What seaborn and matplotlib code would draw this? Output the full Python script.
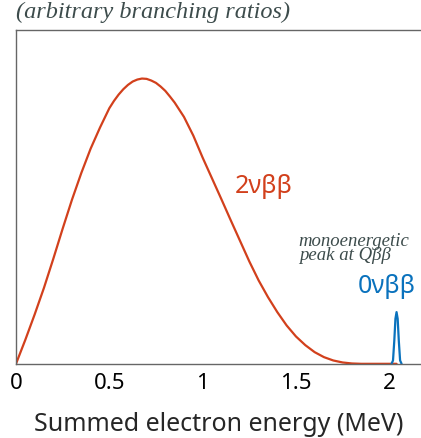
import pandas as pd
import matplotlib.pyplot as plt
import seaborn as sns

# 2vbb summed-electron spectrum (MeV, arbitrary units)
energy_2v = [0.00, 0.05, 0.10, 0.15, 0.20, 0.25, 0.30, 0.35, 0.40, 0.45,
             0.50, 0.525, 0.55, 0.575, 0.60, 0.625, 0.65, 0.675, 0.70, 0.725,
             0.75, 0.775, 0.80, 0.825, 0.85, 0.90, 0.95,
             1.00, 1.05, 1.10, 1.15, 1.20, 1.25, 1.30, 1.35, 1.40, 1.45,
             1.50, 1.55, 1.60, 1.65, 1.70, 1.75, 1.80, 1.85, 1.90, 2.00, 2.039]
rate_2v = [0.000, 0.072, 0.148, 0.228, 0.315, 0.405, 0.492, 0.572, 0.645, 0.708,
           0.766, 0.788, 0.807, 0.823, 0.836, 0.846, 0.852, 0.855, 0.854, 0.849,
           0.842, 0.831, 0.818, 0.801, 0.783, 0.740, 0.684,
           0.618, 0.556, 0.494, 0.431, 0.369, 0.307, 0.250, 0.200, 0.155, 0.115,
           0.082, 0.056, 0.035, 0.020, 0.010, 0.004, 0.001, 0.000, 0.000, 0.000, 0.000]

# 0vbb monoenergetic peak at Q = 2.039 MeV
energy_0v = [2.012, 2.020, 2.027, 2.033, 2.039, 2.045, 2.051, 2.058, 2.066]
rate_0v = [0.000, 0.010, 0.070, 0.135, 0.155, 0.135, 0.070, 0.010, 0.000]

xticks = [0, 0.5, 1, 1.5, 2]
xtick_labels = ["0", "0.5", "1", "1.5", "2"]

red = "#d2401c"
blue = "#0a72bd"
ink = "#3d4c4c"

df_2v = pd.DataFrame({"E": energy_2v, "rate": rate_2v})
df_0v = pd.DataFrame({"E": energy_0v, "rate": rate_0v})

sns.set_theme(style="white")
plt.rcParams["font.family"] = ["Noto Sans", "DejaVu Sans"]

fig = plt.figure(figsize=(4.21, 4.39), dpi=100)
ax = fig.add_axes([0.038, 0.169, 0.962, 0.760])

sns.lineplot(data=df_2v, x="E", y="rate", color=red, linewidth=1.6, ax=ax)
sns.lineplot(data=df_0v, x="E", y="rate", color=blue, linewidth=1.6, ax=ax)

ax.set_xlim(0, 2.17)
ax.set_ylim(0, 1)
ax.set_xticks(xticks)
ax.set_xticklabels(xtick_labels, fontsize=16)
ax.set_yticks([])
ax.tick_params(axis="x", direction="in", length=7, width=0.8, color="#aaaaaa",
               pad=6, labelcolor="black")
ax.set_xlabel("Summed electron energy (MeV)", fontsize=18, labelpad=13)
ax.set_ylabel("")

for side in ["left", "bottom", "top"]:
    ax.spines[side].set_visible(True)
    ax.spines[side].set_color("#666666")
    ax.spines[side].set_linewidth(1.0)
ax.spines["right"].set_visible(False)

ax.text(0.00, 1.025, "(arbitrary branching ratios)", transform=ax.transAxes,
        fontsize=17.5, style="italic", family="Liberation Serif", color=ink,
        ha="left", va="bottom")
ax.text(1.17, 0.515, "2νββ", color=red, fontsize=18)
ax.text(1.515, 0.315, "monoenergetic\npeak at Qββ", color=ink, fontsize=13.5,
        style="italic", family="Liberation Serif", linespacing=0.72)
ax.text(1.83, 0.215, "0νββ", color=blue, fontsize=18)

fig.savefig("out.png", dpi=100)
